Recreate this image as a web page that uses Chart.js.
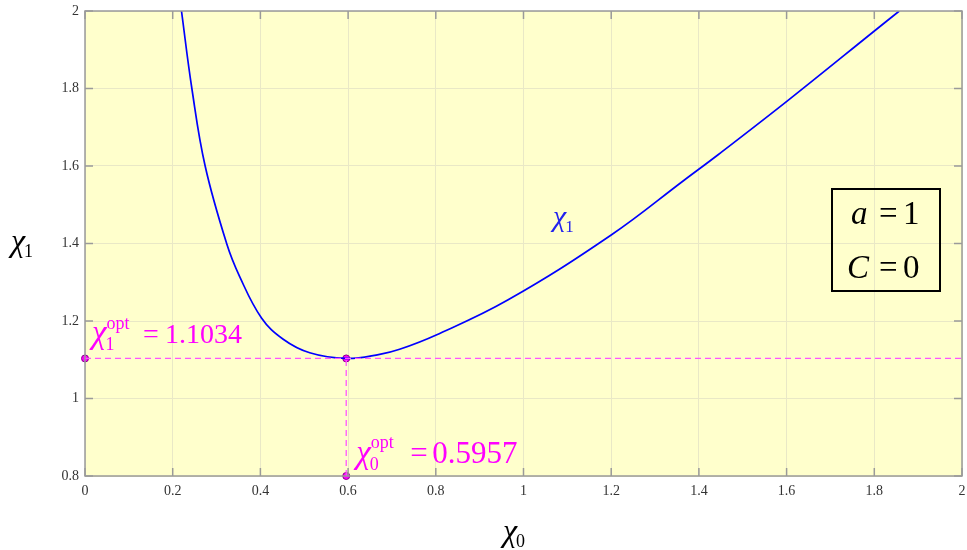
<!DOCTYPE html>
<html>
<head>
<meta charset="utf-8">
<script src="https://cdn.jsdelivr.net/npm/chart.js@4.4.0/dist/chart.umd.min.js"></script>
<style>
  html, body { margin: 0; padding: 0; background: #ffffff; }
  #grafico { display: block; }
</style>
</head>
<body>
<canvas id="grafico" width="967" height="550"></canvas>
<script>
// ----------------------- dados -----------------------//

var chi0 = [0.220, 0.2437, 0.274, 0.323, 0.353, 0.4025, 0.452, 0.5125, 0.5957, 0.672, 0.7175, 0.801, 0.964, 1.200, 1.367, 1.446, 1.604, 1.803, 1.857];
var chi1 = [2.000, 1.800, 1.600, 1.400, 1.314, 1.208, 1.153, 1.118, 1.1034, 1.114, 1.127, 1.164, 1.254, 1.422, 1.564, 1.631, 1.770, 1.951, 2.000];

var chi0Opt = 0.5957;
var chi1Opt = 1.1034;

var xTicks = [0, 0.2, 0.4, 0.6, 0.8, 1, 1.2, 1.4, 1.6, 1.8, 2];
var yTicks = [0.8, 1, 1.2, 1.4, 1.6, 1.8, 2];

var serif = '"Liberation Serif", "Times New Roman", serif';
var magenta = '#FF00FF';

// ----------------------- montagem das séries -----------------------//

var curva = chi0.map(function (x, i) { return { x: x, y: chi1[i] }; });

var linhaH = [{ x: xTicks[0], y: chi1Opt }, { x: xTicks[xTicks.length - 1], y: chi1Opt }];
var linhaV = [{ x: chi0Opt, y: yTicks[0] }, { x: chi0Opt, y: chi1Opt }];
var pontos = [{ x: xTicks[0], y: chi1Opt }, { x: chi0Opt, y: chi1Opt }, { x: chi0Opt, y: yTicks[0] }];

// fundo amarelo, borda e ticks para dentro (estilo MATLAB)
var estiloEixos = {
    id: 'estiloEixos',
    beforeDraw: function (chart) {
        var a = chart.chartArea, c = chart.ctx;
        c.save();
        c.fillStyle = '#FFFFCC';
        c.fillRect(a.left, a.top, a.right - a.left, a.bottom - a.top);
        c.restore();
    },
    afterDatasetsDraw: function (chart) {
        var a = chart.chartArea, c = chart.ctx;
        var sx = chart.scales.x, sy = chart.scales.y;
        c.save();
        c.strokeStyle = '#9A9A9A';
        c.lineWidth = 1.5;
        c.beginPath();
        xTicks.forEach(function (v) {
            var p = sx.getPixelForValue(v);
            c.moveTo(p, a.bottom); c.lineTo(p, a.bottom - 8);
            c.moveTo(p, a.top); c.lineTo(p, a.top + 8);
        });
        yTicks.forEach(function (v) {
            var p = sy.getPixelForValue(v);
            c.moveTo(a.left, p); c.lineTo(a.left + 8, p);
            c.moveTo(a.right, p); c.lineTo(a.right - 8, p);
        });
        c.stroke();
        c.strokeRect(a.left, a.top, a.right - a.left, a.bottom - a.top);
        c.restore();
    }
};

// escreve χ com índice e expoente
function simbolo(c, x, y, size, sub, sup, cor) {
    c.fillStyle = cor;
    c.font = 'italic ' + size + 'px ' + serif;
    c.fillText('\u03C7', x, y);
    var w = c.measureText('\u03C7').width;
    var fs = Math.round(size * 0.56);
    c.font = fs + 'px ' + serif;
    var ws = 0;
    if (sub) { c.fillText(sub, x + w - 1, y + size * 0.2); ws = Math.max(ws, c.measureText(sub).width); }
    if (sup) { c.fillText(sup, x + w, y - size * 0.45); ws = Math.max(ws, c.measureText(sup).width + 1); }
    return x + w - 1 + ws;
}

function rotuloOpt(c, x, y, sub, valor, tam, dx) {
    simbolo(c, x, y, 33, sub, 'opt', magenta);
    c.fillStyle = magenta;
    c.font = tam + 'px ' + serif;
    c.fillText('=', x + 51 + dx, y);
    c.fillText(valor.toFixed(4), x + 73 + dx, y);
}

var textos = {
    id: 'textos',
    afterDraw: function (chart) {
        var c = chart.ctx;
        var sx = chart.scales.x, sy = chart.scales.y;
        c.save();
        c.textBaseline = 'alphabetic';
        c.textAlign = 'left';

        // χ1opt = 1.1034
        rotuloOpt(c, sx.getPixelForValue(0) + 7, sy.getPixelForValue(chi1Opt) - 15, '1', chi1Opt, 28, 0);
        // χ0opt = 0.5957
        rotuloOpt(c, sx.getPixelForValue(chi0Opt) + 10, sy.getPixelForValue(yTicks[0]) - 13, '0', chi0Opt, 31, 3);

        // nome da curva
        simbolo(c, 553, 226, 30, '1', null, '#2222EE');

        // títulos dos eixos
        simbolo(c, 11, 251, 32, '1', null, '#000000');
        simbolo(c, 503, 541, 32, '0', null, '#000000');

        // caixa com parâmetros
        c.strokeStyle = '#000000';
        c.lineWidth = 2;
        c.strokeRect(832, 189, 108, 102);
        c.fillStyle = '#000000';
        c.font = 'italic 33px ' + serif;
        c.fillText('a', 851, 224);
        c.fillText('C', 847, 278);
        c.font = '33px ' + serif;
        c.fillText('=', 879, 224);
        c.fillText('1', 903, 224);
        c.fillText('=', 879, 278);
        c.fillText('0', 903, 278);
        c.restore();
    }
};

var ctx = document.getElementById('grafico').getContext('2d');
var grafico = new Chart(ctx, {
    type: 'scatter',
    data: {
        datasets: [{
            data: linhaH,
            showLine: true,
            borderColor: '#FF55FF',
            borderWidth: 1.3,
            borderDash: [6, 4],
            pointRadius: 0
        }, {
            data: linhaV,
            showLine: true,
            borderColor: '#FF55FF',
            borderWidth: 1.3,
            borderDash: [6, 4],
            pointRadius: 0
        }, {
            data: curva,
            showLine: true,
            borderColor: '#0000FF',
            borderWidth: 1.7,
            tension: 0.4,
            pointRadius: 0
        }, {
            data: pontos,
            showLine: false,
            pointRadius: 3.5,
            pointBackgroundColor: magenta,
            pointBorderColor: '#8B008B',
            pointBorderWidth: 1,
            clip: false
        }]
    },
    options: {
        responsive: false,
        animation: false,
        layout: { padding: { top: 11, right: 3, left: 0, bottom: 0 } },
        plugins: { legend: { display: false }, tooltip: { enabled: false } },
        scales: {
            x: {
                type: 'linear',
                min: 0,
                max: 2,
                afterBuildTicks: function (s) { s.ticks = xTicks.map(function (v) { return { value: v }; }); },
                afterFit: function (s) { s.height = 74; s.paddingLeft = 0; s.paddingRight = 0; },
                ticks: {
                    padding: 7,
                    color: '#333333',
                    font: { family: serif, size: 14 },
                    maxRotation: 0,
                    callback: function (v) { return String(+v.toFixed(1)); }
                },
                grid: { color: '#E9E8C6', lineWidth: 1, drawTicks: false },
                border: { display: false }
            },
            y: {
                type: 'linear',
                min: 0.8,
                max: 2,
                afterBuildTicks: function (s) { s.ticks = yTicks.map(function (v) { return { value: v }; }); },
                afterFit: function (s) { s.width = 85; s.paddingTop = 0; s.paddingBottom = 0; },
                ticks: {
                    padding: 6,
                    color: '#333333',
                    font: { family: serif, size: 14 },
                    callback: function (v) { return String(+v.toFixed(1)); }
                },
                grid: { color: '#E9E8C6', lineWidth: 1, drawTicks: false },
                border: { display: false }
            }
        }
    },
    plugins: [estiloEixos, textos]
});
</script>
</body>
</html>
